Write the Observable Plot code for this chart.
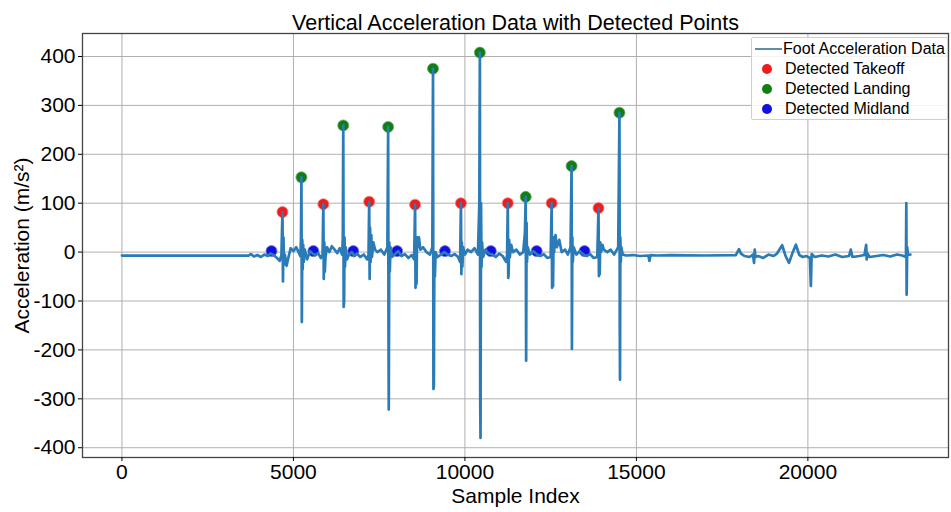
<!DOCTYPE html>
<html>
<head>
<meta charset="utf-8">
<script src="https://cdn.jsdelivr.net/npm/d3@7"></script>
<script src="https://cdn.jsdelivr.net/npm/@observablehq/plot@0.6"></script>
<style>
  body { margin: 0; background: #fff; font-family: "Liberation Sans", Arial, sans-serif; }
  #wrap { position: relative; width: 951px; height: 512px; }
  #legend { position: absolute; left: 751px; top: 37px; width: 197px; height: 83px; box-sizing: border-box;
    border: 1px solid #cfcfcf; border-radius: 2px; background: rgba(255,255,255,0.85);
    font-size: 16px; color: #000; padding-top: 1px; overflow: hidden; }
  .row { display: flex; align-items: center; height: 20px; white-space: nowrap; }
  .sw { width: 30px; display: flex; justify-content: center; align-items: center; flex: none; }
  .ln { width: 28px; height: 2.5px; background: #5b8fa8; margin-left: 3px; }
  .dot { width: 10px; height: 10px; border-radius: 50%; }
</style>
</head>
<body>
<div id="wrap"></div>
<script>
// ---- data ----
const sampleIdx = [
  0,3700,3760,3850,3950,4050,4150,4250,4330,4420,4520,4600,4650,4680,4695,4710,4725,4750,4800,4850,4920,5000,5080,5150,5200,5220,5233,5245,5258,5270,5285,5300,5330,5400,5480,5560,
  5640,5720,5800,5850,5872,5885,5900,5915,5935,5980,6050,6120,6200,6280,6350,6420,6440,6453,6465,6478,6490,6505,6520,6560,6620,6700,6780,
  6850,6950,7050,7150,7190,7209,7222,7235,7250,7270,7290,7330,7380,7450,7550,7650,7740,7762,7772,7780,7795,7810,7830,7870,7950,8050,
  8150,8250,8350,8450,8520,8547,8560,8575,8590,8605,8625,8660,8700,8780,8880,8980,9050,9070,9082,9095,9108,9125,9145,9200,9300,9400,
  9500,9600,9700,9800,9860,9884,9897,9910,9925,9950,10000,10080,10180,10280,10380,10420,10436,10446,10455,10470,10485,10500,10530,10600,10700,
  10800,10900,11000,11100,11200,11230,11250,11263,11275,11290,11310,11350,11400,11500,11600,11700,11750,11773,11785,11798,11810,11830,11900,12000,
  12100,12200,12300,12400,12500,12529,12542,12555,12570,12585,12600,12640,12680,12750,12820,12920,13000,13080,13110,13120,13132,13145,13170,13250,13350,
  13450,13550,13650,13750,13860,13895,13907,13918,13930,13945,13970,14010,14050,14150,14250,14350,14470,14506,14515,14522,14532,14545,14560,14600,
  14700,14900,15100,15350,15380,15410,15600,16000,17000,17900,17990,18050,18150,18300,18400,18430,18450,18470,18550,18700,18850,19000,19100,19250,19350,19450,19550,19650,19750,19850,19950,20060,20087,20110,20200,20400,20600,20800,21000,21200,21250,21300,21500,21650,21700,21715,21730,21800,22000,22200,22400,22600,22750,22860,22870,22880,22895,22920,22990
];
const accel = [
  -7,-7,-4,-9,-6,-10,-5,-8,-3,-6,-12,-18,-6,82,-60,30,-25,-5,-28,-12,8,2,10,0,-8,25,153,-143,25,-35,15,-20,5,-15,2,-3,
  -6,-2,-12,-5,98,-55,20,-40,-10,10,0,12,5,-2,8,-5,30,259,-112,-100,30,-30,10,-15,-5,0,-8,
  -3,-10,-5,-15,-5,103,-55,50,-20,35,-10,20,5,0,5,-5,10,256,-165,-322,20,-40,10,-10,-5,2,
  -8,-4,-12,-6,-15,97,-73,-20,-65,30,10,30,5,10,0,-5,10,375,-280,-275,-20,-50,0,-10,-5,0,
  -5,-8,-4,-10,-20,100,-45,20,-30,10,-5,5,0,8,-5,100,408,-300,-380,100,-30,20,-10,5,-3,
  -5,-10,-3,-8,-20,-6,100,-53,-45,25,-10,15,0,5,-5,0,40,113,-222,60,-20,10,-5,2,
  -5,-8,-4,-12,-10,100,-73,-40,-70,30,0,35,10,25,0,5,-5,10,176,-198,30,-20,10,-5,2,
  -5,-8,-4,-12,-10,90,-49,-15,-45,20,0,15,5,0,5,-5,10,285,-150,-261,30,-20,10,-5,
  -7,-6,-8,-7,-18,-6,-7,-6,-7,-6,6,-3,-8,-10,-5,-22,5,-10,-8,-12,-5,-8,-3,14,-8,-22,-2,15,-6,-10,-8,-12,-69,-4,-10,-7,-9,-5,-10,-8,5,-10,-8,-6,15,-15,-2,-10,-8,-6,-9,-5,-7,-10,100,-87,10,-6,-5
];
const takeoffIdx = [4680,5872,7209,8547,9884,11250,12529,13895];
const takeoffVal = [82,98,103,97,100,100,100,90];
const landingIdx = [5233,6453,7762,9070,10436,11773,13110,14506];
const landingVal = [153,259,256,375,408,113,176,285];
const midlandIdx = [4360,5581,6744,8023,9419,10756,12093,13488];
const midlandVal = [2,2,2,2,2,2,2,2];
const xTicks = [0,5000,10000,15000,20000];
const yTicks = [-400,-300,-200,-100,0,100,200,300,400];
const titleText = "Vertical Acceleration Data with Detected Points";

// ---- build ----
const line = sampleIdx.map((x, i) => ({x, y: accel[i]}));
const pts = (xs, ys) => xs.map((x, i) => ({x, y: ys[i]}));

const chart = Plot.plot({
  width: 951,
  height: 512,
  marginLeft: 82,
  marginRight: 3,
  marginTop: 33,
  marginBottom: 55,
  style: {fontFamily: '"Liberation Sans", Arial, sans-serif', fontSize: "21px", color: "#000", background: "#fff"},
  x: {domain: [-1150, 24100]},
  y: {domain: [-420, 447]},
  marks: [
    Plot.gridX(xTicks, {stroke: "#b0b0b0", strokeOpacity: 1, strokeWidth: 1}),
    Plot.gridY(yTicks, {stroke: "#b0b0b0", strokeOpacity: 1, strokeWidth: 1}),
    Plot.dot(pts(takeoffIdx, takeoffVal), {x: "x", y: "y", r: 5.5, fill: "#ee1c1c", stroke: "#f08080", strokeWidth: 0.8}),
    Plot.dot(pts(landingIdx, landingVal), {x: "x", y: "y", r: 5.5, fill: "#0f800f", stroke: "#6aa86a", strokeWidth: 0.8}),
    Plot.dot(pts(midlandIdx, midlandVal), {x: "x", y: "y", r: 5.5, fill: "#1010e0", stroke: "#7070e0", strokeWidth: 0.8}),
    Plot.line(line, {x: "x", y: "y", stroke: "#2a7bb6", strokeWidth: 2.7, strokeLinejoin: "round"}),
    Plot.frame({stroke: "#444", strokeWidth: 1.3}),
    Plot.axisX(xTicks, {tickFormat: d => String(d), tickSize: 4, tickPadding: 3, fontSize: 21, label: "Sample Index", labelAnchor: "center", labelArrow: "none", labelOffset: 45}),
    Plot.axisY(yTicks, {tickFormat: d => String(d), tickSize: 4, tickPadding: 3, fontSize: 21, label: "Acceleration (m/s²)", labelAnchor: "center", labelArrow: "none", labelOffset: 68}),
    Plot.text([titleText], {frameAnchor: "top", dy: -19, fontSize: 21.5, fill: "#000"})
  ]
});

const wrap = document.getElementById("wrap");
wrap.appendChild(chart);

const legend = document.createElement("div");
legend.id = "legend";
const items = [
  {label: "Foot Acceleration Data", type: "line"},
  {label: "Detected Takeoff", color: "#ee1c1c"},
  {label: "Detected Landing", color: "#0f800f"},
  {label: "Detected Midland", color: "#1010e0"}
];
for (const it of items) {
  const row = document.createElement("div");
  row.className = "row";
  const sw = document.createElement("div");
  sw.className = "sw";
  const m = document.createElement("div");
  if (it.type === "line") { m.className = "ln"; }
  else { m.className = "dot"; m.style.background = it.color; }
  sw.appendChild(m);
  const t = document.createElement("span");
  t.textContent = it.label;
  t.style.marginLeft = it.type === "line" ? "1px" : "3px";
  row.appendChild(sw);
  row.appendChild(t);
  legend.appendChild(row);
}
wrap.appendChild(legend);
</script>
</body>
</html>
